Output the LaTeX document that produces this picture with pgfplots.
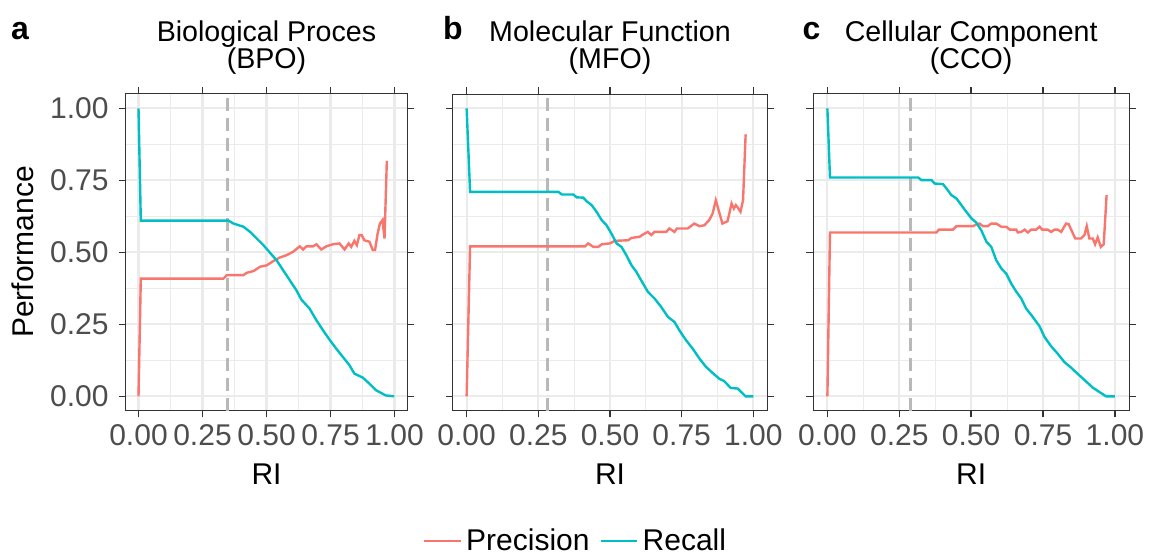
\documentclass[border=0pt]{standalone}
\usepackage{fontspec}
\setmainfont{Liberation Sans}
\usepackage{pgfplots}
\pgfplotsset{compat=1.18}
\definecolor{prec}{HTML}{F8766D}
\definecolor{rec}{HTML}{00BFC4}
\definecolor{gridc}{HTML}{EBEBEB}
\definecolor{bordc}{HTML}{333333}
\definecolor{tickc}{HTML}{4D4D4D}
\definecolor{dashc}{HTML}{B8B8B8}
\pgfplotsset{
  panel/.style={
    scale only axis, height=158.35pt,
    xmin=-0.05, xmax=1.05, ymin=-0.05, ymax=1.05,
    xtick={0,0.25,0.5,0.75,1}, ytick={0,0.25,0.5,0.75,1},
    minor xtick={0.125,0.375,0.625,0.875},
    minor ytick={0.125,0.375,0.625,0.875},
    grid=both,
    major grid style={color=gridc, line width=1.1pt},
    minor grid style={color=gridc, line width=0.55pt},
    axis line style={color=bordc, line width=0.5pt},
    tick align=outside,
    major tick length=3.35pt, minor tick length=0pt,
    every tick/.style={color=bordc, line width=0.7pt},
    xticklabel pos=lower, yticklabel pos=left,
    xtick pos=both, ytick pos=both,
    xticklabels={0.00,0.25,0.50,0.75,1.00},
    xticklabel style={font=\fontsize{15}{17}\selectfont, color=tickc, anchor=north, inner sep=0pt},
    yticklabel style={font=\fontsize{15}{17}\selectfont, color=tickc, anchor=east, inner sep=0pt},
    xticklabel shift=3.5pt, yticklabel shift=5pt,
    anchor=north west,
    legend image code/.code={\draw[#1] (0pt,0pt) -- (18.35pt,0pt);},
  },
  prc/.style={color=prec, line width=1.2pt, no markers},
  rcl/.style={color=rec, line width=1.2pt, no markers},
  dsh/.style={color=dashc, line width=1.4pt, dash pattern=on 6.5pt off 3.5pt, forget plot},
}
\begin{document}
\begin{tikzpicture}
\useasboundingbox (0,0) rectangle (574.5pt,-278pt);
% Panel a
\begin{axis}[panel, at={(62.85pt,-47pt)}, width=140.8pt,
  yticklabels={0.00,0.25,0.50,0.75,1.00}]
\addplot[dsh] coordinates {(0.349,-0.05) (0.349,1.05)};
\addplot[prc] coordinates {(0,0) (0.009,0.409) (0.332,0.409) (0.345,0.421) (0.41,0.421) (0.423,0.429) (0.449,0.435) (0.475,0.45) (0.501,0.455) (0.527,0.47) (0.552,0.482) (0.578,0.49) (0.604,0.502) (0.63,0.521) (0.643,0.51) (0.656,0.521) (0.682,0.521) (0.695,0.528) (0.714,0.51) (0.734,0.521) (0.759,0.528) (0.785,0.531) (0.805,0.51) (0.821,0.531) (0.831,0.519) (0.843,0.54) (0.853,0.525) (0.863,0.56) (0.872,0.56) (0.882,0.542) (0.902,0.537) (0.915,0.508) (0.924,0.508) (0.934,0.565) (0.943,0.6) (0.953,0.612) (0.961,0.548) (0.970,0.818)};
\addplot[rcl] coordinates {(0,1.0) (0.009,0.61) (0.352,0.61) (0.371,0.60) (0.41,0.589) (0.436,0.571) (0.462,0.548) (0.488,0.525) (0.514,0.498) (0.539,0.473) (0.565,0.438) (0.591,0.403) (0.617,0.368) (0.636,0.336) (0.668,0.305) (0.695,0.264) (0.721,0.229) (0.746,0.197) (0.772,0.166) (0.798,0.137) (0.824,0.108) (0.843,0.079) (0.876,0.065) (0.902,0.044) (0.928,0.021) (0.966,0.003) (0.999,0)};
\end{axis}
% Panel b
\begin{axis}[panel, at={(226.15pt,-47pt)}, width=157.7pt, yticklabels={},
  legend columns=2,
  legend style={at={(0.394,-0.411)}, anchor=center, draw=none, fill=none, inner sep=0pt,
    font=\fontsize{15}{18}\selectfont, /tikz/every even column/.append style={column sep=3pt}},
  ]
\addplot[dsh] coordinates {(0.281,-0.05) (0.281,1.05)};
\addplot[prc] coordinates {(0,0) (0.012,0.521) (0.413,0.521) (0.424,0.531) (0.442,0.519) (0.459,0.519) (0.471,0.528) (0.499,0.531) (0.517,0.54) (0.563,0.542) (0.575,0.55) (0.603,0.554) (0.615,0.562) (0.632,0.571) (0.644,0.56) (0.655,0.571) (0.696,0.571) (0.707,0.583) (0.725,0.571) (0.733,0.583) (0.771,0.583) (0.794,0.6) (0.812,0.591) (0.829,0.594) (0.846,0.612) (0.858,0.635) (0.869,0.681) (0.892,0.6) (0.91,0.608) (0.924,0.67) (0.932,0.652) (0.939,0.664) (0.946,0.655) (0.955,0.641) (0.964,0.681) (0.973,0.91)};
\addlegendentry{Precision}
\addplot[rcl] coordinates {(0,1) (0.012,0.71) (0.32,0.71) (0.332,0.701) (0.372,0.701) (0.384,0.691) (0.407,0.69) (0.418,0.678) (0.436,0.664) (0.453,0.641) (0.471,0.612) (0.488,0.594) (0.505,0.565) (0.523,0.531) (0.54,0.519) (0.557,0.49) (0.575,0.455) (0.592,0.432) (0.615,0.392) (0.632,0.363) (0.655,0.34) (0.678,0.311) (0.702,0.276) (0.725,0.258) (0.742,0.229) (0.765,0.195) (0.788,0.166) (0.812,0.131) (0.835,0.102) (0.858,0.081) (0.881,0.061) (0.898,0.053) (0.921,0.029) (0.945,0.027) (0.973,0) (1.0,0)};
\addlegendentry{Recall}
\end{axis}
% Panel c
\begin{axis}[panel, at={(406.5pt,-47pt)}, width=158.15pt, yticklabels={}]
\addplot[dsh] coordinates {(0.29,-0.05) (0.29,1.05)};
\addplot[prc] coordinates {(0,0) (0.009,0.569) (0.379,0.569) (0.388,0.579) (0.437,0.579) (0.449,0.591) (0.506,0.591) (0.518,0.597) (0.529,0.6) (0.541,0.591) (0.558,0.591) (0.57,0.6) (0.587,0.6) (0.605,0.589) (0.622,0.589) (0.634,0.579) (0.657,0.579) (0.662,0.569) (0.674,0.571) (0.686,0.579) (0.697,0.569) (0.709,0.579) (0.726,0.579) (0.738,0.589) (0.747,0.579) (0.766,0.579) (0.778,0.571) (0.79,0.579) (0.801,0.579) (0.813,0.571) (0.83,0.6) (0.839,0.598) (0.862,0.548) (0.882,0.548) (0.894,0.56) (0.902,0.591) (0.911,0.548) (0.923,0.548) (0.931,0.528) (0.94,0.552) (0.951,0.519) (0.961,0.528) (0.971,0.699)};
\addplot[rcl] coordinates {(0,1) (0.009,0.76) (0.316,0.76) (0.327,0.751) (0.362,0.751) (0.373,0.739) (0.402,0.737) (0.414,0.722) (0.431,0.699) (0.449,0.687) (0.466,0.664) (0.483,0.641) (0.501,0.618) (0.518,0.603) (0.535,0.577) (0.553,0.537) (0.57,0.519) (0.587,0.473) (0.605,0.444) (0.622,0.426) (0.639,0.392) (0.657,0.363) (0.674,0.34) (0.691,0.305) (0.714,0.276) (0.738,0.243) (0.755,0.206) (0.778,0.174) (0.801,0.148) (0.824,0.119) (0.847,0.1) (0.876,0.073) (0.899,0.052) (0.923,0.03) (0.946,0.015) (0.969,0) (1.0,0)};
\end{axis}
% titles
\begin{scope}[every node/.style={font=\fontsize{14.3}{17}\selectfont, anchor=base, inner sep=0pt}]
\node at (133.25pt,-20.85pt) {Biological Proces};
\node at (133.25pt,-34.15pt) {(BPO)};
\node at (305pt,-20.85pt) {Molecular Function};
\node at (305pt,-34.15pt) {(MFO)};
\node at (485.6pt,-20.85pt) {Cellular Component};
\node at (485.6pt,-34.15pt) {(CCO)};
\end{scope}
\begin{scope}[every node/.style={font=\fontsize{16}{18}\selectfont\bfseries, anchor=base, inner sep=0pt}]
\node at (10pt,-19.65pt) {a};
\node at (226.5pt,-19.65pt) {b};
\node at (405.75pt,-19.65pt) {c};
\end{scope}
\begin{scope}[every node/.style={font=\fontsize{15}{18}\selectfont, anchor=base, inner sep=0pt}]
\node at (133.25pt,-242.15pt) {RI};
\node at (305pt,-242.15pt) {RI};
\node at (485.6pt,-242.15pt) {RI};
\node[rotate=90] at (16.65pt,-126pt) {Performance};
\end{scope}
\end{tikzpicture}
\end{document}
